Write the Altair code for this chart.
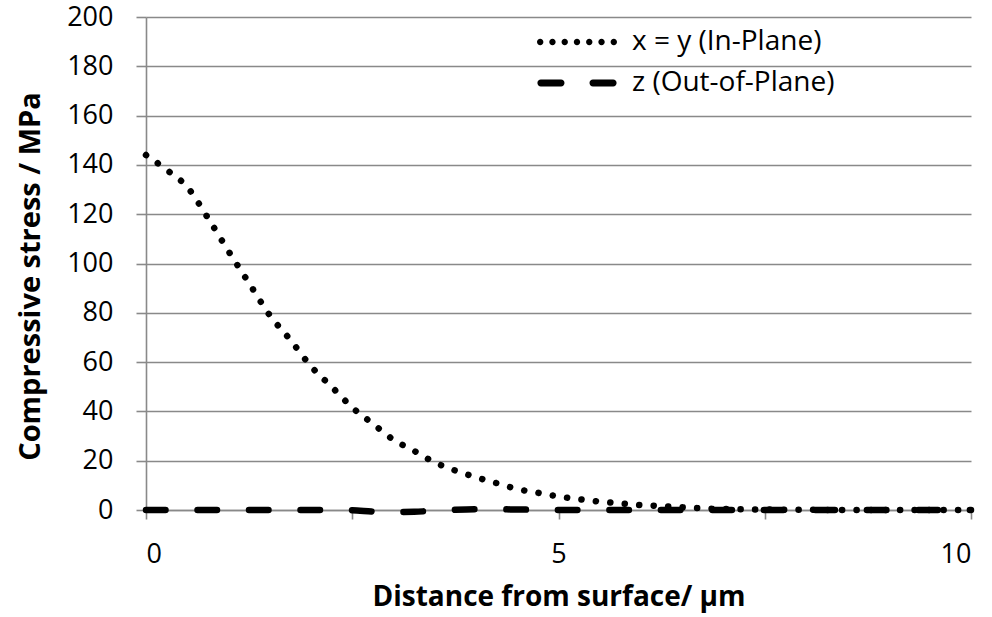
import altair as alt
import pandas as pd

# ---- data ----
distance = [0, 0.25, 0.5, 0.75, 1.0, 1.25, 1.5, 1.75, 2.0, 2.25, 2.5, 2.75, 3.0, 3.25,
            3.5, 3.75, 4.0, 4.25, 4.5, 4.75, 5.0, 5.25, 5.5, 5.75, 6.0, 6.25, 6.5, 6.75,
            7.0, 7.25, 7.5, 7.75, 8.0, 8.25, 8.5, 8.75, 9.0, 9.25, 9.5, 9.75, 10.0]
in_plane = [144, 138, 131, 118.5, 105, 92, 79, 69, 58.3, 50, 41.6, 35, 28.5, 24,
            19.3, 16, 13.3, 10.9, 8.5, 7.0, 5.5, 4.4, 3.4, 2.7, 2.0, 1.6, 1.1, 0.7,
            0.4, 0.3, 0.2, 0.1, 0.1, 0, 0, 0, 0, 0, 0, 0, 0]
out_plane = [0, 0, 0, 0, 0, 0, 0, 0, 0, 0, -0.1, -0.6, -0.8, -0.7,
             -0.3, 0.1, 0.3, 0.3, 0.2, 0.1, 0, 0, 0, 0, 0, 0, 0, 0,
             0, 0, 0, 0, 0, 0, 0, 0, 0, 0, 0, 0, 0]
series_names = ["x = y (In-Plane)", "z (Out-of-Plane)"]
y_ticks = [0, 20, 40, 60, 80, 100, 120, 140, 160, 180, 200]
x_ticks = [0, 2.5, 5, 7.5, 10]

rows = []
for d, v in zip(distance, in_plane):
    rows.append({"dist": d, "stress": v, "series": series_names[0]})
for d, v in zip(distance, out_plane):
    rows.append({"dist": d, "stress": v, "series": series_names[1]})
df = pd.DataFrame(rows)

FONT = "Open Sans"

# legend symbols as custom paths; with symbolSize 1600 one path unit = 20 px
def dot(cx, r=0.16):
    return f"M{cx - r:.4f},0a{r},{r} 0 1,0 {2*r:.4f},0a{r},{r} 0 1,0 {-2*r:.4f},0Z"

dot_path = " ".join(dot(c) for c in [-1.84, -1.227, -0.613, 0.0, 0.613, 1.227, 1.84])

def dash(x0, x1, r=0.17):
    return (f"M{x0 + r:.4f},{-r} H{x1 - r:.4f} A{r},{r} 0 0,1 {x1 - r:.4f},{r} "
            f"H{x0 + r:.4f} A{r},{r} 0 0,1 {x0 + r:.4f},{-r} Z")

dash_path = dash(-1.98, -0.625) + " " + dash(0.625, 1.98)

x_enc = alt.X("dist:Q",
              scale=alt.Scale(domain=[0, 10], nice=False),
              axis=alt.Axis(values=x_ticks, grid=False, format="~g",
                            labelExpr="datum.value % 5 === 0 ? datum.label : ''",
                            tickSize=9, labelPadding=22,
                            title="Distance from surface/ µm",
                            titleY=87, titleBaseline="middle"))
y_enc = alt.Y("stress:Q",
              scale=alt.Scale(domain=[0, 200], nice=False),
              axis=alt.Axis(values=y_ticks, grid=True, tickSize=10, labelPadding=23,
                            title="Compressive stress / MPa", titleFontSize=29,
                            titleX=-116, titleY=259, titleAngle=-90,
                            titleBaseline="middle", titleAlign="center"))

base = alt.Chart(df)

line_in = base.transform_filter(alt.datum.series == series_names[0]).mark_line(
    color="black", strokeWidth=6.5, strokeCap="round", strokeDash=[0.1, 14.4],
    interpolate="monotone").encode(x=x_enc, y=y_enc)

line_out = base.transform_filter(alt.datum.series == series_names[1]).mark_line(
    color="black", strokeWidth=6.5, strokeCap="round", strokeDash=[19.5, 32],
    interpolate="monotone").encode(x=x_enc, y=y_enc)

legend_pts = base.mark_point(filled=True, color="black", opacity=0).encode(
    x="dist:Q", y="stress:Q",
    shape=alt.Shape("series:N",
                    scale=alt.Scale(domain=series_names, range=[dot_path, dash_path]),
                    legend=alt.Legend(title=None, orient="none", legendX=391, legendY=5,
                                      symbolSize=1600, symbolOffset=20, symbolOpacity=1,
                                      symbolFillColor="black", symbolStrokeWidth=0,
                                      labelOffset=35, rowPadding=7, padding=0,
                                      labelFont=FONT, labelFontSize=28,
                                      labelColor="black", labelLimit=400)),
)

chart = alt.layer(line_in, line_out, legend_pts).properties(
    width=825, height=493,
    autosize=alt.AutoSizeParams(type="none"),
    padding={"left": 146, "top": 17, "right": 21, "bottom": 107},
    background="white",
).configure_view(stroke=None).configure_axis(
    labelFont=FONT, labelFontSize=27, labelColor="black",
    titleFont=FONT, titleFontSize=28, titleFontWeight="bold", titleColor="black",
    domainColor="#898989", domainWidth=1.6, tickColor="#898989", tickWidth=1.6,
    gridColor="#898989", gridWidth=1.6, gridOpacity=1,
)

chart.save("out.html", embed_options={"renderer": "svg", "actions": False})
